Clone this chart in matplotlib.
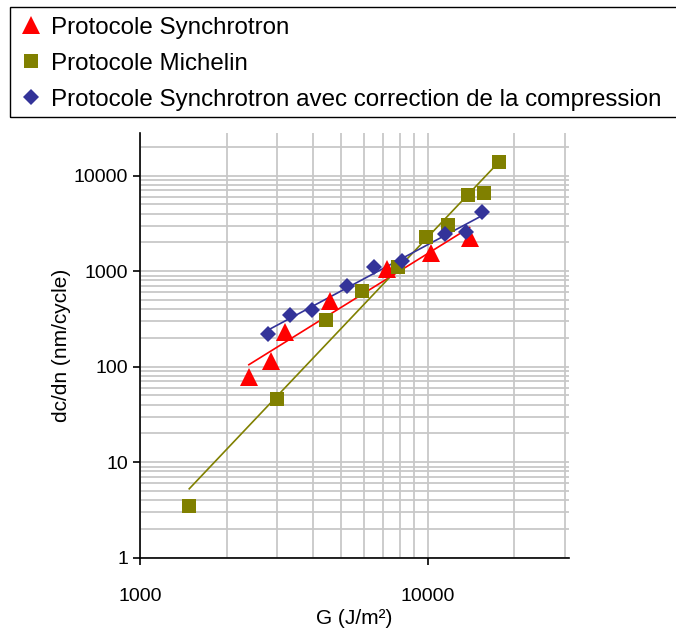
import matplotlib
matplotlib.use('Agg')
import matplotlib.pyplot as plt
from matplotlib.patches import Rectangle
import numpy as np

plt.rcParams['font.family'] = ['Liberation Sans', 'DejaVu Sans']

# Protocole Synchrotron
synchro_G = [2390, 2860, 3180, 4570, 7200, 10240, 13990]
synchro_dcdn = [78, 116, 230, 493, 1057, 1538, 2207]

# Protocole Michelin
michelin_G = [1483, 2983, 4444, 5930, 7890, 9840, 11760, 13800, 15690, 17690]
michelin_dcdn = [3.47, 45.5, 310, 622, 1117, 2281, 3069, 6310, 6580, 14070]

# Protocole Synchrotron avec correction de la compression
corr_G = [2789, 3320, 3954, 5225, 6494, 8150, 11460, 13550, 15490]
corr_dcdn = [221, 344, 394, 708, 1098, 1291, 2454, 2594, 4124]

series = [
    ('Protocole Synchrotron', synchro_G, synchro_dcdn, '#ff0000', '^', 13),
    ('Protocole Michelin', michelin_G, michelin_dcdn, '#808000', 's', 9.5),
    ('Protocole Synchrotron avec correction de la compression', corr_G, corr_dcdn, '#333399', 'D', 8.5),
]

W, H = 676, 630
fig = plt.figure(figsize=(W/100, H/100), dpi=100)
ax = fig.add_axes([140/W, 1 - 557.7/H, 429/W, 424.7/H])

handles = []
for label, x, y, color, marker, ms in series:
    x = np.array(x, dtype=float)
    y = np.array(y, dtype=float)
    # power trendline (least squares in log-log)
    b, a = np.polyfit(np.log10(x), np.log10(y), 1)
    xs = np.array([x.min(), x.max()])
    ax.plot(xs, 10**(a + b*np.log10(xs)), color=color, lw=1.2, zorder=3)
    h, = ax.plot(x, y, ls='none', marker=marker, ms=ms, color=color,
                 markeredgewidth=0, zorder=4, label=label)
    handles.append(h)

ax.set_xscale('log')
ax.set_yscale('log')
ax.set_xlim(1000, 31000)
ax.set_ylim(1, 28000)

ax.grid(True, which='both', color='#c8c8c8', lw=1.3)
ax.set_axisbelow(True)
for s in ['top', 'right']:
    ax.spines[s].set_visible(False)
for s in ['left', 'bottom']:
    ax.spines[s].set_linewidth(1.2)

ax.set_xticks([1000, 10000])
ax.set_xticklabels(['1000', '10000'])
ax.set_yticks([1, 10, 100, 1000, 10000])
ax.set_yticklabels(['1', '10', '100', '1000', '10000'])
ax.tick_params(which='major', direction='out', length=5, width=1.2, labelsize=14)
ax.tick_params(axis='x', which='major', pad=17)
ax.tick_params(which='minor', length=0)

ax.set_xlabel('G (J/m²)', fontsize=15, labelpad=3)
ax.set_ylabel('dc/dn (nm/cycle)', fontsize=15, labelpad=2)

# legend box runs past the right edge of the image
fig.patches.append(Rectangle((10/W, 1 - 117/H), 700/W, 110/H,
                             transform=fig.transFigure, fill=False,
                             edgecolor='black', lw=1.0))
leg = fig.legend(handles=handles, loc='upper left',
                 bbox_to_anchor=(10/W, 1 - 7/H), fontsize=17.4,
                 frameon=False, handlelength=0.9, handletextpad=0.4,
                 labelspacing=0.58, borderpad=0.4, borderaxespad=0,
                 handleheight=0.7)

fig.savefig('out.png', dpi=100)
